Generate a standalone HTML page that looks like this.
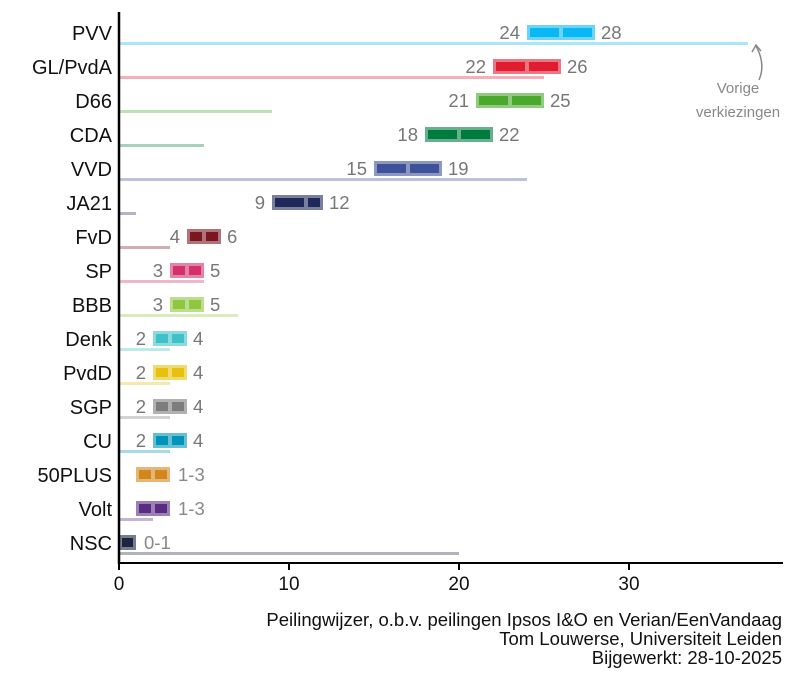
<!DOCTYPE html>
<html><head><meta charset="utf-8"><style>
body{margin:0;background:#fff;}
svg{display:block;font-family:"Liberation Sans",Arial,sans-serif;}
</style></head><body>
<svg id="s" width="812" height="691" xmlns="http://www.w3.org/2000/svg"></svg>
<script>
const d=[
["PVV",24,28,26,37,"#0ab8f5"],
["GL/PvdA",22,26,24,25,"#e01c2f"],
["D66",21,25,23,9,"#4aa82c"],
["CDA",18,22,20,5,"#007b40"],
["VVD",15,19,17,24,"#3f5199"],
["JA21",9,12,11,1,"#1f2a5a"],
["FvD",4,6,5,3,"#7a1620"],
["SP",3,5,4,5,"#d4306b"],
["BBB",3,5,4,7,"#8ec63f"],
["Denk",2,4,3,3,"#3ec1c9"],
["PvdD",2,4,3,3,"#e7c10d"],
["SGP",2,4,3,3,"#7d7d7d"],
["CU",2,4,3,3,"#0094b8"],
["50PLUS",1,3,2,0,"#d2861c"],
["Volt",1,3,2,2,"#582c83"],
["NSC",0,1,null,20,"#1c2643"]];
const X=v=>119+v*17;
let h='';
d.forEach((r,i)=>{
 const y=33+i*34;
 const [n,lo,hi,m,p,c]=r;
 h+=`<text x="112" y="${y+7}" text-anchor="end" font-size="20" fill="#111">${n}</text>`;
 if(p>0)h+=`<rect x="119" y="${y+9}" width="${p*17}" height="3" fill="${c}" opacity="0.35"/>`;
 h+=`<rect x="${X(lo)}" y="${y-8}" width="${(hi-lo)*17}" height="15" fill="${c}" opacity="0.6"/>`;
 if(m===null){h+=`<rect x="${X(lo)+3}" y="${y-5}" width="11" height="9" fill="${c}"/>`;}
 else{
  h+=`<rect x="${X(lo)+3}" y="${y-5}" width="${(m-lo)*17-5}" height="9" fill="${c}"/>`;
  h+=`<rect x="${X(m)+2}" y="${y-5}" width="${(hi-m)*17-5}" height="9" fill="${c}"/>`;
 }
 if(i<13){
  h+=`<text x="${X(lo)-7}" y="${y+6}" text-anchor="end" font-size="18.5" fill="#777">${lo}</text>`;
  h+=`<text x="${X(hi)+6}" y="${y+6}" font-size="18.5" fill="#777">${hi}</text>`;
 }else{
  h+=`<text x="${X(hi)+8}" y="${y+6}" font-size="18.5" fill="#888">${lo}-${hi}</text>`;
 }
});
h+=`<line x1="119" y1="12" x2="119" y2="564" stroke="#000" stroke-width="2.5"/>`;
h+=`<line x1="118" y1="563" x2="783" y2="563" stroke="#000" stroke-width="2"/>`;
[0,10,20,30].forEach(t=>{h+=`<line x1="${X(t)}" y1="563" x2="${X(t)}" y2="570" stroke="#000" stroke-width="2"/><text x="${X(t)}" y="590" text-anchor="middle" font-size="19" fill="#111">${t}</text>`;});
h+=`<path d="M759 80 Q766 64 756 46" fill="none" stroke="#888" stroke-width="1.5"/><path d="M752 52 L756 45 L761 51" fill="none" stroke="#888" stroke-width="1.5"/>`;
h+=`<text x="738" y="93" text-anchor="middle" font-size="15" fill="#888">Vorige</text><text x="738" y="117" text-anchor="middle" font-size="15" fill="#888">verkiezingen</text>`;
h+=`<text x="782" y="626" text-anchor="end" font-size="18.5" fill="#111">Peilingwijzer, o.b.v. peilingen Ipsos I&amp;O en Verian/EenVandaag</text>`;
h+=`<text x="782" y="645" text-anchor="end" font-size="18.5" fill="#111">Tom Louwerse, Universiteit Leiden</text>`;
h+=`<text x="782" y="664" text-anchor="end" font-size="18.5" fill="#111">Bijgewerkt: 28-10-2025</text>`;
document.getElementById('s').innerHTML=h;
</script>
</body></html>
